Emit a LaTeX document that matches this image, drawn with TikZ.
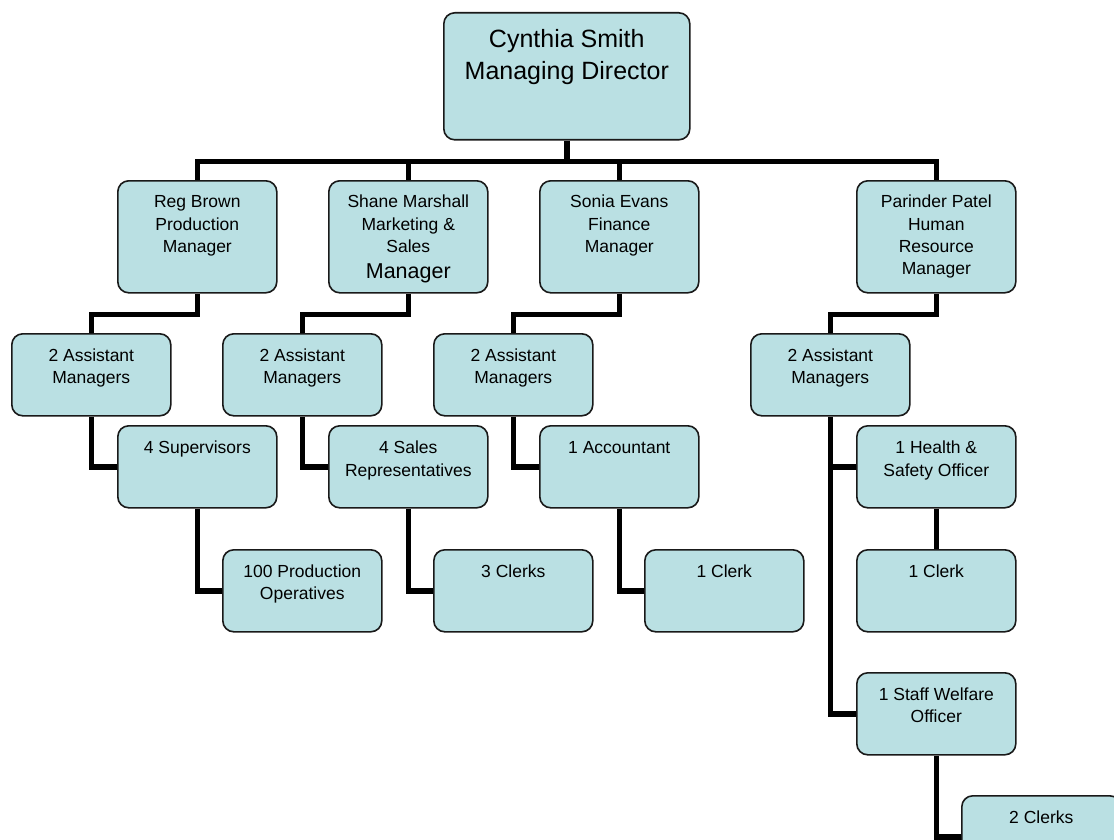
\documentclass[tikz,border=0pt]{standalone}
\usepackage{fontspec}
\setmainfont{Liberation Sans}
\usetikzlibrary{backgrounds}
\definecolor{boxfill}{RGB}{186,224,227}
\definecolor{boxline}{RGB}{25,25,25}
\newcommand\bt[4]{\parbox[c][#2][t]{#1}{\centering\rule{0pt}{#3}#4}}
\begin{document}
\begin{tikzpicture}[x=1pt,y=-1pt,
  box/.style={draw=boxline, line width=1.6pt, rounded corners=11pt, fill=boxfill,
    inner sep=0pt, anchor=north west, font=\fontsize{17.5}{22.3}\selectfont},
  conn/.style={line width=5.5pt, draw=black}]
\useasboundingbox (0,0) rectangle (1114,840);
\clip (0,0) rectangle (1114,840);
% level 1
\node[box, font=\fontsize{25}{32}\selectfont] (top) at (443,12) {\bt{246pt}{127pt}{35pt}{Cynthia Smith\\Managing Director}};
% level 2
\node[box] (reg) at (117,180) {\bt{159pt}{112pt}{27pt}{Reg Brown\\Production\\Manager}};
\node[box] (shane) at (328,180) {\bt{159pt}{112pt}{27pt}{Shane Marshall\\Marketing \&\\Sales\\[3.7pt]{\fontsize{21.5}{26}\selectfont Manager}}};
\node[box] (sonia) at (539,180) {\bt{159pt}{112pt}{27pt}{Sonia Evans\\Finance\\Manager}};
\node[box] (par) at (856,180) {\bt{159pt}{112pt}{27pt}{Parinder Patel\\Human\\Resource\\Manager}};
% level 3
\node[box] (am1) at (11,333) {\bt{159pt}{82pt}{27.5pt}{2 Assistant\\Managers}};
\node[box] (am2) at (222,333) {\bt{159pt}{82pt}{27.5pt}{2 Assistant\\Managers}};
\node[box] (am3) at (433,333) {\bt{159pt}{82pt}{27.5pt}{2 Assistant\\Managers}};
\node[box] (am4) at (750,333) {\bt{159pt}{82pt}{27.5pt}{2 Assistant\\Managers}};
% level 4
\node[box] (sup) at (117,425) {\bt{159pt}{82pt}{28pt}{4 Supervisors}};
\node[box] (rep) at (328,425) {\bt{159pt}{82pt}{28pt}{4 Sales\\Representatives}};
\node[box] (acc) at (539,425) {\bt{159pt}{82pt}{28pt}{1 Accountant}};
\node[box] (hs) at (856,425) {\bt{159pt}{82pt}{28pt}{1 Health \&\\Safety Officer}};
% level 5
\node[box] (op) at (222,549) {\bt{159pt}{82pt}{27.5pt}{100 Production\\Operatives}};
\node[box] (clk3) at (433,549) {\bt{159pt}{82pt}{27.5pt}{3 Clerks}};
\node[box] (clk1) at (644,549) {\bt{159pt}{82pt}{27.5pt}{1 Clerk}};
\node[box] (clk4) at (856,549) {\bt{159pt}{82pt}{27.5pt}{1 Clerk}};
% HR lower
\node[box] (sw) at (856,672) {\bt{159pt}{82pt}{27.5pt}{1 Staff Welfare\\Officer}};
\node[box] (c2) at (961,795) {\bt{159pt}{82pt}{27.5pt}{2 Clerks}};
% connectors
\begin{pgfonlayer}{background}
\coordinate (bus) at ([yshift=-21pt]top.south);
\draw[conn] (top.south) -- (bus);
\draw[conn] (reg.north) |- (bus) -| (par.north);
\draw[conn] (shane.north) -- (shane.north |- bus);
\draw[conn] (sonia.north) -- (sonia.north |- bus);
\draw[conn] (reg.south) -- ++(0,21) -| (am1.north);
\draw[conn] (shane.south) -- ++(0,21) -| (am2.north);
\draw[conn] (sonia.south) -- ++(0,21) -| (am3.north);
\draw[conn] (par.south) -- ++(0,21) -| (am4.north);
\draw[conn] (am1.south) |- (sup.west);
\draw[conn] (am2.south) |- (rep.west);
\draw[conn] (am3.south) |- (acc.west);
\draw[conn] (am4.south) |- (sw.west);
\draw[conn] (am4.south |- hs.west) -- (hs.west);
\draw[conn] (sup.south) |- (op.west);
\draw[conn] (rep.south) |- (clk3.west);
\draw[conn] (acc.south) |- (clk1.west);
\draw[conn] (hs.south) -- (clk4.north);
\draw[conn] (sw.south) |- (c2.west);
\end{pgfonlayer}
\end{tikzpicture}
\end{document}
